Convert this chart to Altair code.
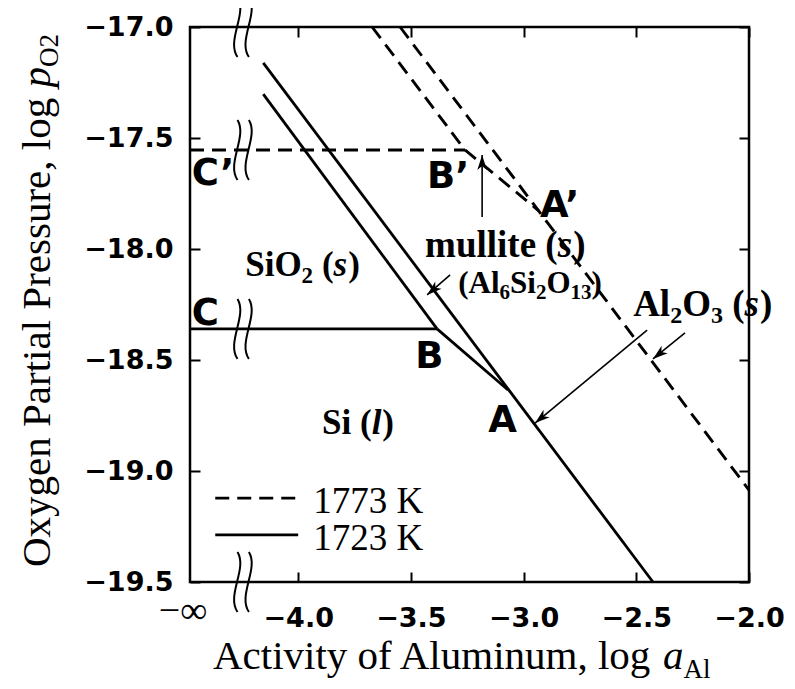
import math
import altair as alt
import pandas as pd

# ---------------- axes ----------------
X_DOMAIN = [-4.48, -2.0]          # left edge stands for -infinity (axis break)
Y_DOMAIN = [-19.5, -17.0]
x_tick_values = [-4.0, -3.5, -3.0, -2.5, -2.0]
y_tick_values = [-17.0, -17.5, -18.0, -18.5, -19.0, -19.5]
neg_inf_label = "−∞"
axis_break_x = -4.24

# ---------------- 1723 K boundaries (solid) ----------------
k1723_segment = ["C-B", "C-B", "SiO2/mullite", "SiO2/mullite",
                 "B-A", "B-A", "mullite|Si/Al2O3", "mullite|Si/Al2O3"]
k1723_x = [-4.48, -3.384, -4.155, -3.384, -3.384, -3.069, -4.155, -2.426]
k1723_y = [-18.36, -18.36, -17.302, -18.36, -18.36, -18.635, -17.162, -19.5]

# ---------------- 1773 K boundaries (dashed) ----------------
k1773_segment = ["C'-B'", "C'-B'", "SiO2/mullite", "SiO2/mullite",
                 "B'-A'", "B'-A'", "mullite|Si/Al2O3", "mullite|Si/Al2O3"]
k1773_x = [-4.48, -3.26, -3.672, -3.26, -3.26, -2.93, -3.548, -2.0]
k1773_y = [-17.554, -17.554, -17.0, -17.554, -17.554, -17.83, -17.0, -19.086]

# ---------------- point labels ----------------
point_labels = ["C’", "C", "B’", "A’", "B", "A"]
point_label_x = [-4.472, -4.472, -3.428, -2.927, -3.481, -3.157]
point_label_y = [-17.712, -18.342, -17.725, -17.856, -18.536, -18.824]

# ---------------- arrows (tail -> tip) ----------------
arrow_tail_x = [-3.184, -3.326, -2.452, -2.284]
arrow_tail_y = [-17.856, -18.117, -18.365, -18.378]
arrow_tip_x = [-3.184, -3.428, -2.949, -2.426]
arrow_tip_y = [-17.577, -18.207, -18.784, -18.495]

# ---------------- legend ----------------
legend_names = ["1773 K", "1723 K"]
legend_line_x = [-4.368, -4.0]
legend_line_y = [-19.122, -19.288]
legend_text_x = -3.933
legend_text_y = [-19.189, -19.356]

# ---------------- phase labels (anchor x, y) ----------------
phase_anchor = {
    "SiO2": (-4.235, -18.122),
    "mullite": (-3.437, -18.036),
    "formula": (-3.290, -18.198),
    "Al2O3": (-2.514, -18.302),
    "Si": (-3.894, -18.833),
}

W, H = 559, 555
SERIF = "Liberation Serif"
SANS = "DejaVu Sans"
PX_X = W / (X_DOMAIN[1] - X_DOMAIN[0])
PX_Y = H / (Y_DOMAIN[1] - Y_DOMAIN[0])

xs = alt.Scale(domain=X_DOMAIN, nice=False, zero=False)
ys = alt.Scale(domain=Y_DOMAIN, nice=False, zero=False)

# Times metrics (Liberation Serif is metric compatible)
W_REG = {'O': 722, 'x': 500, 'y': 500, 'g': 500, 'e': 444, 'n': 500, ' ': 250, 'P': 556,
         'a': 444, 'r': 333, 't': 278, 'i': 278, 'l': 278, 's': 389, 'u': 500, ',': 250,
         'o': 500, 'A': 722, 'c': 444, 'v': 500, 'f': 333, 'm': 778, 'K': 722}
W_ITAL = {'p': 500, 'a': 500, 'l': 278, 's': 389, ' ': 250}
W_BOLD = {'S': 556, 'i': 278, 'O': 778, ' ': 250, '(': 333, ')': 333, 'm': 833, 'u': 556,
          'l': 278, 't': 333, 'e': 444, 'A': 722}
W_BI = {'s': 420, 'l': 300}


def tw(txt, size, weight, style):
    if weight == "bold" and style == "italic":
        tab = W_BI
    elif weight == "bold":
        tab = W_BOLD
    elif style == "italic":
        tab = W_ITAL
    else:
        tab = W_REG
    return sum(tab.get(c, 500) for c in txt) * size / 1000.0


def text_run(pieces, anchor, data_coords=True, angle=0, font=SERIF):
    out = []
    off = 0.0
    for txt, size, weight, style, dy in pieces:
        if txt.strip():
            df = pd.DataFrame({"x": [anchor[0]], "y": [anchor[1]], "t": [txt]})
            if data_coords:
                enc = dict(x=alt.X("x:Q", scale=xs, axis=None),
                           y=alt.Y("y:Q", scale=ys, axis=None))
            else:
                enc = dict(x=alt.value(anchor[0]), y=alt.value(anchor[1]))
            mk = dict(align="left", baseline="alphabetic", dx=round(off, 1), dy=dy,
                      font=font, fontSize=size, fontWeight=weight, fontStyle=style,
                      color="black")
            if angle:
                mk["angle"] = angle
            out.append(alt.Chart(df).mark_text(**mk).encode(text="t:N", **enc))
        off += tw(txt, size, weight, style)
    return out


def axis(orient, values, labels, pad):
    kw = dict(orient=orient, values=values, offset=-10, tickSize=10, tickWidth=2,
              tickColor="black", domain=False, grid=False, labels=labels, title=None)
    if labels:
        kw.update(format=".1f", labelFont=SANS, labelFontWeight="bold", labelFontSize=27,
                  labelColor="black", labelPadding=pad, labelFlush=False, labelOverlap=False)
    return alt.Axis(**kw)


layers = []

# boundaries
df1723 = pd.DataFrame({"x": k1723_x, "y": k1723_y, "seg": k1723_segment,
                       "o": list(range(len(k1723_x)))})
layers.append(alt.Chart(df1723).mark_line(color="black", strokeWidth=2.8).encode(
    x=alt.X("x:Q", scale=xs, axis=axis("bottom", x_tick_values, True, 23)),
    y=alt.Y("y:Q", scale=ys, axis=axis("left", y_tick_values, True, 17)),
    detail="seg:N", order="o:Q"))

df1773 = pd.DataFrame({"x": k1773_x, "y": k1773_y, "seg": k1773_segment,
                       "o": list(range(len(k1773_x)))})
layers.append(alt.Chart(df1773).mark_line(color="black", strokeWidth=2.9,
                                          strokeDash=[14, 8]).encode(
    x=alt.X("x:Q", scale=xs, axis=axis("top", x_tick_values, False, 0)),
    y=alt.Y("y:Q", scale=ys, axis=axis("right", y_tick_values, False, 0)),
    detail="seg:N", order="o:Q"))

# axis / line break marks
BREAK_PATH = ("M-0.22,-1 C0.12,-0.45 -0.6,0.45 -0.22,1 "
              "M0.16,-1 C0.5,-0.45 -0.22,0.45 0.16,1")
df_break = pd.DataFrame({"x": [axis_break_x] * 4,
                         "y": [Y_DOMAIN[1], k1773_y[0], k1723_y[0], Y_DOMAIN[0]]})
layers.append(alt.Chart(df_break).mark_point(shape=BREAK_PATH, filled=False, size=3600,
                                             color="black", strokeWidth=2, opacity=1).encode(
    x=alt.X("x:Q", scale=xs, axis=None), y=alt.Y("y:Q", scale=ys, axis=None)))

# arrows
angles = []
for tx, ty, hx, hy in zip(arrow_tail_x, arrow_tail_y, arrow_tip_x, arrow_tip_y):
    dxp = (hx - tx) * PX_X
    dyp = -(hy - ty) * PX_Y
    angles.append(math.degrees(math.atan2(dxp, -dyp)) % 360)
df_arrow = pd.DataFrame({"x": arrow_tail_x, "y": arrow_tail_y, "x2": arrow_tip_x,
                         "y2": arrow_tip_y, "ang": angles})
layers.append(alt.Chart(df_arrow).mark_rule(color="black", strokeWidth=1.6).encode(
    x=alt.X("x:Q", scale=xs, axis=None), y=alt.Y("y:Q", scale=ys, axis=None),
    x2="x2:Q", y2="y2:Q"))
ARROW_PATH = "M0,0 L0.32,1 L0,0.72 L-0.32,1 Z"
layers.append(alt.Chart(df_arrow).mark_point(shape=ARROW_PATH, filled=True, size=900,
                                             color="black", opacity=1).encode(
    x=alt.X("x2:Q", scale=xs, axis=None), y=alt.Y("y2:Q", scale=ys, axis=None),
    angle=alt.Angle("ang:Q", scale=None)))

# legend samples
df_leg_d = pd.DataFrame({"x": legend_line_x, "y": [legend_line_y[0]] * 2})
df_leg_s = pd.DataFrame({"x": legend_line_x, "y": [legend_line_y[1]] * 2})
layers.append(alt.Chart(df_leg_d).mark_line(color="black", strokeWidth=2.9,
                                            strokeDash=[14, 8]).encode(
    x=alt.X("x:Q", scale=xs, axis=None), y=alt.Y("y:Q", scale=ys, axis=None)))
layers.append(alt.Chart(df_leg_s).mark_line(color="black", strokeWidth=2.8).encode(
    x=alt.X("x:Q", scale=xs, axis=None), y=alt.Y("y:Q", scale=ys, axis=None)))
df_leg_t = pd.DataFrame({"x": [legend_text_x] * 2, "y": legend_text_y, "t": legend_names})
layers.append(alt.Chart(df_leg_t).mark_text(align="left", baseline="alphabetic", font=SERIF,
                                            fontSize=37, color="black").encode(
    x=alt.X("x:Q", scale=xs, axis=None), y=alt.Y("y:Q", scale=ys, axis=None), text="t:N"))

# point labels
df_pts = pd.DataFrame({"x": point_label_x, "y": point_label_y, "t": point_labels})
layers.append(alt.Chart(df_pts).mark_text(align="left", baseline="alphabetic", font=SANS,
                                          fontWeight="bold", fontSize=37, color="black").encode(
    x=alt.X("x:Q", scale=xs, axis=None), y=alt.Y("y:Q", scale=ys, axis=None), text="t:N"))

# phase labels
B, N, I = "bold", "normal", "italic"
layers += text_run([("SiO", 35, B, N, 0), ("2", 23, B, N, 7), (" ", 35, B, N, 0),
                    ("(", 35, B, N, 0), ("s", 35, B, I, 0), (")", 35, B, N, 0)],
                   phase_anchor["SiO2"])
layers += text_run([("mullite", 37, B, N, 0), (" ", 37, B, N, 0), ("(", 37, B, N, 0),
                    ("s", 37, B, I, 0), (")", 37, B, N, 0)], phase_anchor["mullite"])
layers += text_run([("(Al", 31, B, N, 0), ("6", 21, B, N, 6), ("Si", 31, B, N, 0),
                    ("2", 21, B, N, 6), ("O", 31, B, N, 0), ("13", 21, B, N, 6),
                    (")", 31, B, N, 0)], phase_anchor["formula"])
layers += text_run([("Al", 37, B, N, 0), ("2", 24, B, N, 7), ("O", 37, B, N, 0),
                    ("3", 24, B, N, 7), (" ", 37, B, N, 0), ("(", 37, B, N, 0),
                    ("s", 37, B, I, 0), (")", 37, B, N, 0)], phase_anchor["Al2O3"])
layers += text_run([("Si", 35, B, N, 0), (" ", 35, B, N, 0), ("(", 35, B, N, 0),
                    ("l", 35, B, I, 0), (")", 35, B, N, 0)], phase_anchor["Si"])

# -infinity label under the left edge
df_inf = pd.DataFrame({"x": [X_DOMAIN[0]], "t": [neg_inf_label]})
layers.append(alt.Chart(df_inf).mark_text(align="center", baseline="alphabetic", font=SERIF,
                                          fontSize=38, dx=-7, color="black").encode(
    x=alt.X("x:Q", scale=xs, axis=None), y=alt.value(H + 41), text="t:N"))

# axis titles (pixel anchored, relative to the plot area)
layers += text_run([("Activity of Aluminum, log ", 41, N, N, 0), ("a", 41, N, I, 0),
                    ("Al", 27, N, N, 9)], (23, H + 87), data_coords=False)
layers += text_run([("Oxygen Partial Pressure, log ", 41, N, N, 0), ("p", 41, N, I, 0),
                    ("O2", 27, N, N, 8)], (-140, 540), data_coords=False, angle=270)

chart = alt.layer(*layers).properties(
    width=W, height=H,
    padding={"left": 182, "top": 19, "right": 38, "bottom": 106},
    autosize=alt.AutoSizeParams(type="none"),
).resolve_axis(x="independent", y="independent").configure_view(
    stroke="black", strokeWidth=2.5)

chart.save("out.html", embed_options={"renderer": "svg", "actions": False})
